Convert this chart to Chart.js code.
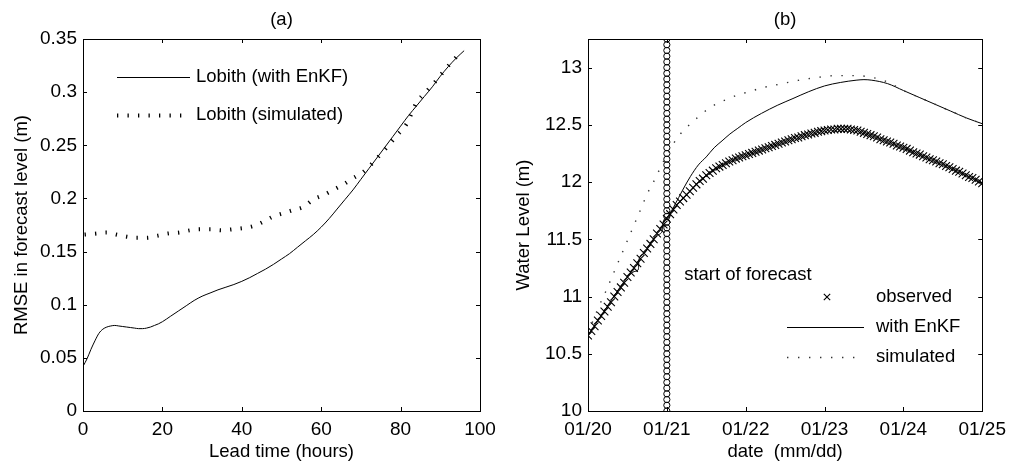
<!DOCTYPE html>
<html>
<head>
<meta charset="utf-8">
<script src="https://cdn.jsdelivr.net/npm/chart.js@4.4.0/dist/chart.umd.min.js"></script>
<style>
  html, body { margin: 0; padding: 0; background: #fff; }
  #wrap { position: relative; width: 1013px; height: 463px; overflow: hidden; }
  .panel { position: absolute; top: 0; height: 463px; }
  #pa { left: 0; width: 506px; }
  #pb { left: 506px; width: 507px; }
</style>
</head>
<body>
<div id="wrap">
  <div class="panel" id="pa"><canvas id="chartA"></canvas></div>
  <div class="panel" id="pb"><canvas id="chartB"></canvas></div>
</div>
<script>
// ---- panel (a): RMSE vs lead time ----
var leadHoursEnkf = [0,1,2,3,4,5,6,7,8,9,10,11,12,13,14,15,16,17,18,19,20,22,24,26,28,30,32,34,36,38,40,42,44,46,48,50,52,54,56,58,60,62,64,66,68,70,72,74,76,78,80,82,84,86,88,90,92,94,96];
var rmseEnkf = [0.042,0.049,0.058,0.066,0.073,0.077,0.079,0.080,0.0805,0.080,0.0795,0.079,0.0785,0.078,0.0775,0.0775,0.078,0.079,0.0805,0.082,0.084,
  0.089,0.094,0.099,0.104,0.108,0.111,0.114,0.1165,0.119,0.122,0.1255,0.1295,0.1335,0.138,0.143,0.148,0.154,0.160,0.166,0.173,0.181,0.190,0.199,0.208,0.218,0.228,0.238,0.248,0.258,0.268,0.278,0.287,0.296,0.305,0.315,0.324,0.332,0.339];
var leadHoursSim = [0.4,3.4,5.9,8.4,11,13.4,16,18.9,21.4,24.4,26.9,29.4,32.1,34.9,37.8,40.3,42.9,45.4,47.9,50.4,52.9,55.5,58,60.5,63,65.5,68,70.6,73.1,76.5,79,81.5,84,86.6,89,91.6,93.3,95.4];
var rmseSim = [0.166,0.167,0.168,0.166,0.164,0.163,0.163,0.165,0.167,0.168,0.170,0.171,0.171,0.170,0.171,0.172,0.174,0.178,0.183,0.186,0.189,0.192,0.199,0.203,0.208,0.213,0.219,0.225,0.234,0.248,0.259,0.270,0.290,0.301,0.311,0.323,0.330,0.339];
var xTicksA = [0,20,40,60,80,100];
var xLabelsA = ['0','20','40','60','80','100'];
var yTicksA = [0,0.05,0.1,0.15,0.2,0.25,0.3,0.35];
var yLabelsA = ['0','0.05','0.1','0.15','0.2','0.25','0.3','0.35'];

// ---- panel (b): water level, hourly from 01/20 ----
var observedLevel = [
  10.66,10.70,10.74,10.79,10.83,10.87,10.91,10.95,11.00,11.04,11.08,11.12,11.17,11.21,11.25,11.29,11.33,11.38,11.42,11.46,11.50,11.55,11.59,11.63,11.68,
  11.72,11.76,11.80,11.83,11.86,11.89,11.92,11.95,11.98,12.01,12.03,12.06,12.08,12.10,12.12,12.135,12.15,12.165,12.18,12.19,12.205,12.215,12.225,12.235,
  12.245,12.255,12.265,12.275,12.285,12.295,12.305,12.315,12.325,12.335,12.345,12.355,12.365,12.375,12.385,12.39,12.40,12.41,12.415,12.425,12.43,12.44,12.445,12.45,
  12.455,12.46,12.46,12.465,12.465,12.465,12.465,12.46,12.455,12.45,12.44,12.43,12.42,12.41,12.40,12.39,12.375,12.365,12.355,12.345,12.335,12.32,12.31,12.30,
  12.29,12.275,12.26,12.25,12.24,12.225,12.215,12.20,12.19,12.18,12.165,12.155,12.14,12.13,12.115,12.10,12.09,12.075,12.06,12.045,12.035,12.02,12.005,11.99];
var enkfDays = [0,0.25,0.5,0.54,0.6,0.64,0.645,0.7,0.8,0.88,0.94,0.945,1.0,1.1,1.2,1.3,1.4,1.5,1.6,1.7,1.8,1.9,2.0,2.2,2.4,2.6,2.8,3.0,3.2,3.4,3.5,3.6,3.8,4.0,4.2,4.4,4.6,4.8,5.0];
var enkfLevel = [10.66,10.92,11.17,11.20,11.22,11.24,11.32,11.37,11.47,11.54,11.57,11.63,11.69,11.80,11.93,12.05,12.15,12.22,12.30,12.36,12.42,12.47,12.52,12.60,12.67,12.73,12.79,12.84,12.87,12.89,12.895,12.89,12.86,12.80,12.74,12.68,12.62,12.56,12.51];
var simDays = [0,0.13,0.235,0.34,0.445,0.55,0.655,0.76,0.83,0.95,1.07,1.16,1.24,1.35,1.45,1.56,1.68,1.79,1.93,2.06,2.18,2.33,2.46,2.61,2.75,2.88,3.02,3.2,3.4,3.6,3.78,4.0,4.2,4.4,4.6,4.8,5.0];
var simLevel = [10.68,10.90,11.06,11.23,11.40,11.57,11.74,11.91,12.00,12.17,12.32,12.41,12.47,12.54,12.60,12.655,12.70,12.73,12.77,12.79,12.82,12.84,12.86,12.88,12.90,12.91,12.925,12.93,12.93,12.915,12.88,12.80,12.74,12.68,12.62,12.56,12.51];
var forecastStartDay = 1;
var forecastMarkerLevels = [10.00,10.05,10.10,10.15,10.20,10.25,10.30,10.35,10.40,10.45,10.50,10.55,10.60,10.65,10.70,10.75,10.80,10.85,10.90,10.95,
  11.00,11.05,11.10,11.15,11.20,11.25,11.30,11.35,11.40,11.45,11.50,11.55,11.60,11.65,11.70,11.75,11.80,11.85,11.90,11.95,
  12.00,12.05,12.10,12.15,12.20,12.25,12.30,12.35,12.40,12.45,12.50,12.55,12.60,12.65,12.70,12.75,12.80,12.85,12.90,12.95,
  13.00,13.05,13.10,13.15,13.20,13.25];
var xTicksB = [0,1,2,3,4,5];
var dateLabels = ['01/20','01/21','01/22','01/23','01/24','01/25'];
var yTicksB = [10,10.5,11,11.5,12,12.5,13];
var yLabelsB = ['10','10.5','11','11.5','12','12.5','13'];

var FONT = "'Liberation Sans', Arial, Helvetica, sans-serif";
Chart.defaults.font.family = FONT;
Chart.defaults.color = '#000';

function pairs(xs, ys) {
  return xs.map(function(x, i) { return {x: x, y: ys[i]}; });
}

// box, inward ticks, title, legend and notes
var framePlugin = {
  id: 'frame',
  afterDraw: function(chart, args, opts) {
    var ctx = chart.ctx, ca = chart.chartArea;
    var xs = chart.scales.x, ys = chart.scales.y;
    ctx.save();
    ctx.strokeStyle = '#000';
    ctx.lineWidth = 1;
    ctx.setLineDash([]);
    ctx.strokeRect(Math.round(ca.left) + 0.5, Math.round(ca.top) + 0.5,
      Math.round(ca.right - ca.left), Math.round(ca.bottom - ca.top));
    var tl = 4;
    ctx.beginPath();
    xs.ticks.forEach(function(t) {
      var px = Math.round(xs.getPixelForValue(t.value)) + 0.5;
      ctx.moveTo(px, ca.bottom); ctx.lineTo(px, ca.bottom - tl);
      ctx.moveTo(px, ca.top); ctx.lineTo(px, ca.top + tl);
    });
    ys.ticks.forEach(function(t) {
      var py = Math.round(ys.getPixelForValue(t.value)) + 0.5;
      ctx.moveTo(ca.left, py); ctx.lineTo(ca.left + tl, py);
      ctx.moveTo(ca.right, py); ctx.lineTo(ca.right - tl, py);
    });
    ctx.stroke();

    ctx.fillStyle = '#000';
    ctx.font = opts.fontSize + 'px ' + FONT;
    ctx.textAlign = 'center';
    ctx.textBaseline = 'middle';
    ctx.fillText(opts.title, (ca.left + ca.right) / 2, opts.titleY);

    // legend
    var lg = opts.legend;
    ctx.textAlign = 'left';
    lg.items.forEach(function(item, i) {
      var ds = chart.data.datasets[item.dataset];
      var y = ca.top + lg.top + i * lg.rowGap;
      var x0 = ca.left + lg.sampleLeft, x1 = ca.left + lg.sampleRight;
      ctx.save();
      ctx.strokeStyle = ds.borderColor;
      if (ds.showLine === false) {
        ctx.lineWidth = ds.pointBorderWidth;
        Chart.helpers.drawPoint(ctx, {pointStyle: ds.pointStyle, radius: lg.markerRadius,
          borderWidth: ds.pointBorderWidth, rotation: 0}, ca.left + lg.markerX, y);
      } else {
        ctx.lineWidth = ds.borderWidth;
        ctx.setLineDash(ds.borderDash || []);
        ctx.beginPath();
        ctx.moveTo(x0, y + 0.5); ctx.lineTo(x1, y + 0.5);
        ctx.stroke();
      }
      ctx.restore();
      ctx.fillText(item.label, ca.left + lg.textLeft, y);
    });

    if (opts.note) {
      ctx.fillText(opts.note.text, xs.getPixelForValue(opts.note.x), ys.getPixelForValue(opts.note.y));
    }
    ctx.restore();
  }
};

function axisX(ticks, labels, title, h) {
  return {
    type: 'linear', min: ticks[0], max: ticks[ticks.length - 1],
    grid: {display: false, drawTicks: false}, border: {display: false},
    afterBuildTicks: function(s) { s.ticks = ticks.map(function(v) { return {value: v}; }); },
    afterFit: function(s) { s.height = h; },
    ticks: {padding: 7, maxRotation: 0, autoSkip: false, font: {size: 19},
      callback: function(v, i) { return labels[i]; }},
    title: {display: true, text: title, font: {size: 18.5}, padding: {top: 0, bottom: 0}}
  };
}
function axisY(ticks, labels, max, title, w, tpad) {
  return {
    type: 'linear', min: ticks[0], max: max,
    grid: {display: false, drawTicks: false}, border: {display: false},
    afterBuildTicks: function(s) { s.ticks = ticks.map(function(v) { return {value: v}; }); },
    afterFit: function(s) { s.width = w; },
    ticks: {padding: 6, autoSkip: false, font: {size: 19},
      callback: function(v, i) { return labels[i]; }},
    title: {display: true, text: title, font: {size: 18.5}, padding: {top: tpad, bottom: 0}}
  };
}

var chartA = new Chart(document.getElementById('chartA'), {
  type: 'line',
  data: {
    datasets: [{
      label: 'Lobith (with EnKF)',
      data: pairs(leadHoursEnkf, rmseEnkf),
      borderColor: '#000', borderWidth: 1, pointRadius: 0,
      cubicInterpolationMode: 'monotone'
    }, {
      label: 'Lobith (simulated)',
      data: pairs(leadHoursSim, rmseSim),
      borderColor: '#000', borderWidth: 4, borderDash: [1.3, 9.2], pointRadius: 0,
      cubicInterpolationMode: 'monotone'
    }]
  },
  options: {
    responsive: true, maintainAspectRatio: false, animation: false,
    layout: {padding: {top: 39, right: 26, left: 0, bottom: 0}},
    scales: {
      x: axisX(xTicksA, xLabelsA, 'Lead time (hours)', 52),
      y: axisY(yTicksA, yLabelsA, 0.35, 'RMSE in forecast level (m)', 83, 11)
    },
    plugins: {
      legend: {display: false}, tooltip: {enabled: false},
      frame: {
        title: '(a)', titleY: 20, fontSize: 18.5,
        legend: {top: 38, rowGap: 38, sampleLeft: 34, sampleRight: 107, markerX: 70, markerRadius: 4, textLeft: 113,
          items: [{label: 'Lobith (with EnKF)', dataset: 0}, {label: 'Lobith (simulated)', dataset: 1}]}
      }
    }
  },
  plugins: [framePlugin]
});

var chartB = new Chart(document.getElementById('chartB'), {
  type: 'line',
  data: {
    datasets: [{
      label: 'start of forecast',
      data: forecastMarkerLevels.map(function(v) { return {x: forecastStartDay, y: v}; }),
      showLine: false, pointStyle: 'circle', pointRadius: 3.1, pointBorderWidth: 1,
      borderColor: '#000', backgroundColor: 'rgba(0,0,0,0)', order: 4
    }, {
      label: 'observed',
      data: observedLevel.map(function(v, i) { return {x: i / 24, y: v}; }),
      showLine: false, pointStyle: 'crossRot', pointRadius: 5.5, pointBorderWidth: 1.1,
      borderColor: '#000', backgroundColor: '#000', order: 3
    }, {
      label: 'with EnKF',
      data: pairs(enkfDays, enkfLevel),
      borderColor: '#000', borderWidth: 1, pointRadius: 0,
      cubicInterpolationMode: 'monotone', order: 2
    }, {
      label: 'simulated',
      data: pairs(simDays, simLevel),
      borderColor: '#333', borderWidth: 1.4, borderDash: [1.4, 9.6], pointRadius: 0,
      cubicInterpolationMode: 'monotone', order: 1
    }]
  },
  options: {
    responsive: true, maintainAspectRatio: false, animation: false,
    layout: {padding: {top: 39, right: 28, left: 0, bottom: 0}},
    scales: {
      x: axisX(xTicksB, dateLabels, 'date  (mm/dd)', 52),
      y: axisY(yTicksB, yLabelsB, 13.25, 'Water Level (m)', 82, 7)
    },
    plugins: {
      legend: {display: false}, tooltip: {enabled: false},
      frame: {
        title: '(b)', titleY: 20, fontSize: 18.5,
        note: {text: 'start of forecast', x: 1.22, y: 11.19},
        legend: {top: 258, rowGap: 30, sampleLeft: 199, sampleRight: 276, markerX: 239, markerRadius: 4.5, textLeft: 288,
          items: [{label: 'observed', dataset: 1}, {label: 'with EnKF', dataset: 2}, {label: 'simulated', dataset: 3}]}
      }
    }
  },
  plugins: [framePlugin]
});
</script>
</body>
</html>
